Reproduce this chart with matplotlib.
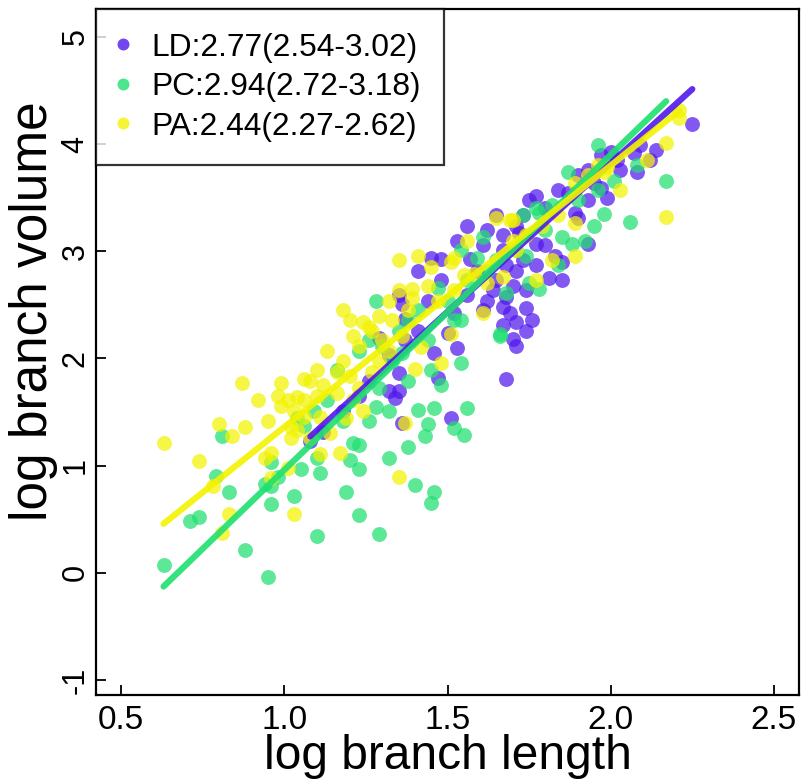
import matplotlib
matplotlib.use("Agg")
import matplotlib.pyplot as plt
from matplotlib.lines import Line2D
import numpy as np

plt.rcParams['font.family'] = ['Liberation Sans', 'DejaVu Sans']

# ---------------- data ----------------
species = ["LD", "PC", "PA"]
slopes = [2.77, 2.94, 2.44]
ci_low = [2.54, 2.72, 2.27]
ci_high = [3.02, 3.18, 2.62]
intercepts = [-1.72, -1.98, -1.08]
line_x_start = [1.08, 0.63, 0.63]
line_x_end = [2.25, 2.17, 2.21]

ld_x = [1.70, 1.68, 1.53, 1.51, 1.34, 1.35, 1.32, 1.47, 1.36, 1.35, 1.37, 1.29, 1.46, 1.65, 1.45,
        1.48, 1.41, 1.35, 1.36, 1.37, 1.57, 1.52, 1.50, 1.68, 1.67, 1.69, 2.25, 2.08, 2.09, 2.07,
        1.97, 1.99, 1.93, 1.95, 1.97, 1.75, 1.85, 1.81, 1.74, 1.74, 1.71, 1.87, 1.93, 1.85, 1.83,
        1.89, 1.90, 1.80, 1.73, 1.72, 1.77, 1.80, 1.67, 1.68, 1.71, 1.65, 1.64, 1.70, 1.73, 1.74,
        1.77, 1.76, 1.71, 1.67, 1.62, 1.61, 1.08, 1.12, 1.18, 1.23, 1.26, 1.32, 1.41, 1.44, 1.48,
        1.56, 1.59, 1.61, 1.62, 1.67, 1.71, 1.77, 1.84, 1.93, 2.02, 2.03, 2.14, 2.12, 2.00, 1.90,
        1.56, 1.53]
ld_y = [2.18, 1.81, 2.10, 1.44, 1.63, 1.70, 1.70, 1.82, 1.40, 1.86, 2.17, 2.19, 2.05, 3.34, 2.94,
        2.93, 2.82, 2.59, 2.51, 2.37, 2.93, 2.42, 2.24, 2.57, 2.48, 2.42, 4.19, 3.74, 3.99, 3.92,
        3.90, 3.50, 3.48, 3.64, 3.59, 3.48, 2.73, 2.75, 2.47, 2.26, 2.12, 3.54, 3.07, 2.90, 2.96,
        3.36, 3.31, 3.40, 3.34, 3.17, 3.07, 3.06, 3.01, 2.87, 2.82, 2.73, 2.64, 2.68, 2.92, 2.64,
        2.87, 2.36, 2.34, 2.31, 2.54, 2.45, 1.23, 1.31, 1.51, 1.65, 1.79, 2.03, 2.26, 2.54, 2.73,
        2.59, 2.82, 3.06, 3.20, 3.15, 3.24, 3.52, 3.57, 3.76, 3.85, 3.76, 3.94, 3.85, 3.93, 3.71,
        3.24, 3.10]

pc_x = [0.63, 0.95, 0.88, 1.10, 0.71, 0.74, 0.81, 0.79, 0.83, 0.96, 1.03, 0.94, 0.96, 0.98, 1.05,
        1.11, 0.96, 1.04, 1.10, 1.66, 1.54, 1.48, 1.46, 1.41, 1.56, 1.44, 1.52, 1.55, 1.43, 1.38,
        1.32, 1.28, 1.21, 1.23, 1.20, 1.23, 1.40, 1.46, 1.45, 1.19, 1.23, 1.29, 1.38, 1.29, 1.45,
        1.33, 1.36, 1.28, 1.61, 1.54, 1.59, 1.47, 1.54, 1.66, 1.87, 2.17, 2.06, 1.98, 1.95, 1.92,
        1.85, 1.88, 2.01, 1.75, 1.78, 1.77, 1.78, 1.68, 1.16, 1.23, 1.26, 1.30, 1.35, 1.38, 1.41,
        1.50, 1.56, 1.62, 1.65, 1.71, 1.80, 1.82, 1.90, 1.96, 2.08, 1.73, 1.74, 1.84, 1.96, 1.13,
        1.09, 1.06, 1.18, 1.26, 1.32, 1.44, 1.52]
pc_y = [0.07, -0.04, 0.21, 0.34, 0.48, 0.52, 1.28, 0.90, 0.75, 0.64, 0.72, 0.83, 0.81, 0.89, 0.97,
        0.93, 1.03, 1.44, 1.07, 2.21, 1.96, 1.75, 1.54, 1.52, 1.54, 1.39, 1.35, 1.29, 1.28, 1.17,
        1.07, 1.55, 1.21, 1.19, 1.05, 0.97, 0.82, 0.75, 0.65, 0.75, 0.54, 0.36, 1.79, 1.72, 1.89,
        1.98, 2.05, 2.54, 3.13, 3.01, 2.94, 2.66, 2.36, 2.23, 3.74, 3.66, 3.27, 3.35, 3.24, 3.10,
        3.13, 3.07, 3.66, 2.70, 2.65, 3.40, 3.36, 2.61, 1.89, 2.07, 2.17, 2.12, 2.26, 2.36, 2.45,
        2.54, 2.73, 2.82, 2.92, 3.01, 3.20, 3.43, 3.48, 3.57, 3.80, 3.34, 2.96, 2.87, 3.99, 1.61,
        1.51, 1.37, 1.42, 1.42, 1.51, 2.17, 2.36]

pa_x = [0.63, 0.74, 0.87, 0.99, 0.80, 0.88, 0.95, 0.84, 1.06, 1.10, 1.08, 1.13, 0.99, 1.01, 1.04,
        1.06, 1.03, 1.06, 1.02, 1.02, 1.11, 0.94, 0.96, 1.01, 0.96, 0.78, 0.83, 0.81, 1.03, 1.11,
        1.08, 1.17, 1.35, 1.37, 1.40, 1.48, 1.42, 1.51, 1.14, 1.39, 1.39, 1.45, 1.51, 1.52, 1.56,
        1.65, 1.70, 1.58, 1.62, 1.44, 1.24, 1.26, 1.21, 1.61, 1.67, 2.21, 2.17, 2.17, 2.03, 1.89,
        1.89, 1.89, 1.98, 1.69, 1.70, 1.18, 1.20, 1.23, 1.27, 1.29, 1.30, 1.32, 1.33, 1.35, 1.38,
        1.18, 1.20, 1.23, 1.27, 1.29, 1.32, 1.36, 1.16, 1.21, 1.24, 1.19, 1.10, 1.12, 1.16, 1.04,
        1.35, 1.41, 1.47, 1.52, 1.55, 1.71, 1.74, 1.79, 1.84, 1.93, 1.96, 1.82, 1.77, 2.11, 2.21,
        1.99, 0.98, 0.92]
pa_y = [1.21, 1.04, 1.77, 1.77, 1.39, 1.36, 1.42, 1.28, 1.81, 1.89, 1.79, 2.07, 1.56, 1.61, 1.64,
        1.61, 1.51, 1.45, 1.26, 1.36, 1.45, 1.07, 1.12, 0.98, 0.88, 0.81, 0.55, 0.37, 0.55, 1.11,
        1.26, 1.12, 0.89, 1.40, 1.90, 1.96, 2.11, 2.23, 1.30, 2.65, 2.56, 2.85, 2.90, 2.94, 3.10,
        3.31, 3.29, 2.79, 2.70, 2.68, 2.34, 2.29, 2.21, 2.42, 2.76, 4.32, 4.01, 3.32, 3.57, 3.26,
        2.96, 3.64, 3.74, 3.29, 3.10, 2.45, 2.36, 2.12, 2.26, 2.40, 2.17, 2.54, 2.36, 2.64, 2.45,
        1.98, 1.84, 1.72, 1.87, 1.98, 2.07, 2.21, 1.68, 1.61, 1.51, 1.44, 1.65, 1.75, 1.87, 1.33,
        2.92, 2.96, 2.54, 2.64, 2.78, 3.01, 3.15, 3.24, 3.34, 3.71, 3.80, 2.92, 2.73, 3.85, 4.24,
        3.79, 1.65, 1.61]

xticks = [0.5, 1.0, 1.5, 2.0, 2.5]
xticklabels = ["0.5", "1.0", "1.5", "2.0", "2.5"]
yticks = [-1, 0, 1, 2, 3, 4, 5]
yticklabels = ["-1", "0", "1", "2", "3", "4", "5"]

colors = ["#5018EC", "#1FE070", "#F3F300"]
xs = [ld_x, pc_x, pa_x]
ys = [ld_y, pc_y, pa_y]

# ---------------- plot ----------------
fig = plt.figure(figsize=(8.02, 7.80), dpi=100)
ax = fig.add_axes([96/802, 1-695/780, (799-96)/802, (695-9)/780])

for i in range(3):
    ax.scatter(xs[i], ys[i], s=115, color=colors[i], alpha=0.72, linewidths=0, zorder=2)
for i in range(3):
    lx = np.array([line_x_start[i], line_x_end[i]])
    ax.plot(lx, intercepts[i] + slopes[i]*lx, color=colors[i], lw=4.5, alpha=0.9,
            solid_capstyle='round', zorder=3)

ax.set_xlim(0.423, 2.577)
ax.set_ylim(-1.14, 5.26)
ax.set_xticks(xticks)
ax.set_xticklabels(xticklabels)
ax.set_yticks(yticks)
ax.set_yticklabels(yticklabels, rotation=90, va='center')
ax.tick_params(direction='in', length=7, width=1.3)
ax.tick_params(axis='x', pad=7, labelsize=24)
ax.tick_params(axis='y', pad=4, labelsize=22)
for sp in ax.spines.values():
    sp.set_linewidth(1.6)

ax.set_xlabel("log branch length", fontsize=34.5)
ax.set_ylabel("log branch volume", fontsize=37)
ax.xaxis.set_label_coords(0.5, -0.057)
ax.yaxis.set_label_coords(-0.054, 0.56)

labels = [f"{s}:{b:.2f}({l:.2f}-{h:.2f})" for s, b, l, h in zip(species, slopes, ci_low, ci_high)]
handles = [Line2D([], [], marker='o', linestyle='none', markersize=8.6,
                  markerfacecolor=c, markeredgewidth=0, alpha=0.8) for c in colors]
leg = ax.legend(handles, labels, loc='upper left', bbox_to_anchor=(0, 1), borderaxespad=0,
                fontsize=22.9, frameon=True, fancybox=False, edgecolor='black',
                handlelength=0.2, handletextpad=0.8, labelspacing=0.3, borderpad=0.74)
leg.get_frame().set_linewidth(1.6)

fig.savefig("out.png", dpi=100)
